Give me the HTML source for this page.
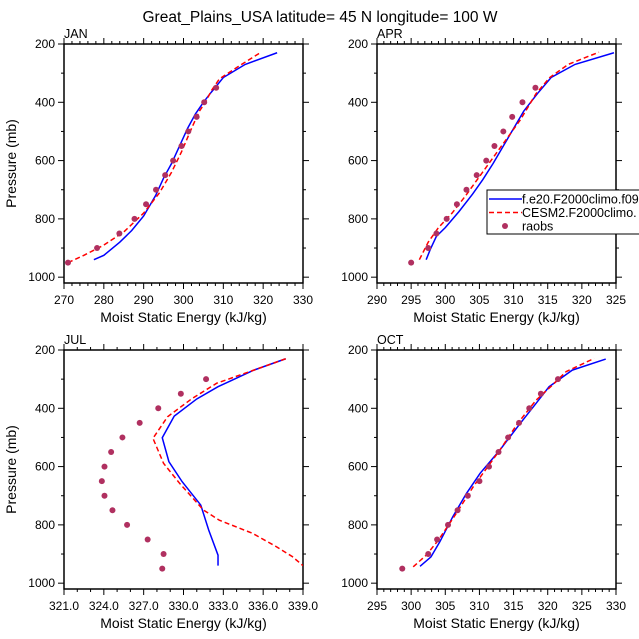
<!DOCTYPE html>
<html><head><meta charset="utf-8"><style>
html,body{margin:0;padding:0;background:#fff;overflow:hidden}
svg{display:block;font-family:"Liberation Sans",Arial,sans-serif}
</style></head><body>
<svg id="c" width="639" height="639" viewBox="0 0 639 639">
<text x="320" y="22" text-anchor="middle" font-size="15.5">Great_Plains_USA  latitude= 45 N longitude= 100 W</text>
</svg>
<script>
const NS='http://www.w3.org/2000/svg';
const svg=document.getElementById('c');
// JAN
const janObsX=[271,278.3,283.9,287.7,290.6,293.1,295.4,297.4,299.5,301.2,303.3,305.2,308.2];
const janObsP=[950,900,850,800,750,700,650,600,550,500,450,400,350];
const janBlueX=[277.5,280,284,287,290,293,295,297,299,301,303,305,307,310,315.5,323.5];
const janBlueP=[940,925,880,840,790,720,660,610,550,490,440,400,365,315,270,230];
const janRedX=[271,275,280,285,290,294,297,299.5,302,304,305.5,307,309,314,319.5];
const janRedP=[950,925,890,845,780,710,640,570,490,430,400,360,320,275,228];
// APR
const aprObsX=[295,297.5,298.7,300.2,301.7,303.1,304.6,306,307.2,308.5,309.8,311.3,313.2];
const aprObsP=[950,900,850,800,750,700,650,600,550,500,450,400,350];
const aprBlueX=[297.2,297.8,298.7,300,302,304,305.5,307,308.5,310,311.5,313.5,315.5,319,324.7];
const aprBlueP=[940,905,860,830,775,715,665,610,550,490,430,370,315,270,230];
const aprRedX=[296.2,297.5,299,301,303,305,307,309,311,313.3,315.3,318,322.5];
const aprRedP=[940,880,830,780,720,655,590,525,460,370,315,270,228];
// JUL
const julObsX=[331.7,329.8,328.1,326.7,325.4,324.55,324.05,323.85,324.05,324.65,325.75,327.3,328.5,328.4];
const julObsP=[300,350,400,450,500,550,600,650,700,750,800,850,900,950];
const julBlueX=[337.7,335.3,332.6,331.0,329.3,328.4,328.9,329.9,331.3,331.9,332.6,332.6];
const julBlueP=[230,269,326,368,427,501,583,652,732,818,904,940];
const julRedX=[337.7,335.3,332.5,330.6,328.8,327.7,328.5,329.7,331.5,332.7,335.2,337,338.2,339];
const julRedP=[230,269,314,368,429,503,589,657,749,784,829,875,909,940];
// OCT
const octObsX=[298.7,302.5,303.8,305.4,306.8,308.3,310,311.4,312.8,314.2,315.8,317.3,319,321.5];
const octObsP=[950,900,850,800,750,700,650,600,550,500,450,400,350,300];
const octBlueX=[301.3,302.9,304.2,306.1,308.1,310.1,313,315.8,318.3,320.2,323.6,328.5];
const octBlueP=[942,910,858,772,692,623,543,457,383,326,269,231];
const octRedX=[300.3,302.2,304,306.6,309.1,313,315.6,318.3,320.7,322.7,326.8];
const octRedP=[944,904,852,761,669,543,452,372,320,274,229];

const yTicks=[200,400,600,800,1000];
function el(t,a,p){const e=document.createElementNS(NS,t);for(const k in a)e.setAttribute(k,a[k]);(p||svg).appendChild(e);return e;}
function panel(name,L,T,xmin,xmax,xstep,xminor,dec,obsX,obsP,bX,bP,rX,rP){
  const R=L+239,B=T+239;
  const g=el('g',{});
  
  
  const sx=v=>L+(v-xmin)/(xmax-xmin)*(R-L);
  const sy=p=>T+(p-200)/820*(B-T);
  for(let v=xmin;v<=xmax+1e-9;v+=xminor){
    const maj=Math.abs(((v-xmin)/xstep)-Math.round((v-xmin)/xstep))<1e-6;
    const x=sx(v),len=maj?6:3;
    el('line',{x1:x,y1:B,x2:x,y2:B+len,stroke:'#000','stroke-width':1},g);
    el('line',{x1:x,y1:T,x2:x,y2:T-len,stroke:'#000','stroke-width':1},g);
    if(maj){const t=el('text',{x:x,y:B+21,'text-anchor':'middle','font-size':12},g);t.textContent=v.toFixed(dec);
      }
  }
  for(let p=200;p<=1000;p+=100){
    const maj=p%200===0,y=sy(p),len=maj?6:3;
    el('line',{x1:L,y1:y,x2:L-len,y2:y,stroke:'#000'},g);
    el('line',{x1:R,y1:y,x2:R+len,y2:y,stroke:'#000'},g);
  }
  yTicks.forEach(p=>{const t=el('text',{x:L-9,y:sy(p)+4,'text-anchor':'end','font-size':12},g);t.textContent=p;
    });
  const box=el('rect',{x:L,y:T,width:R-L,height:B-T,fill:'none',stroke:'#000','stroke-width':1.5},g);
  
  const tl=el('text',{x:L,y:T-6,'font-size':12.5},g);tl.textContent=name.toUpperCase();
  
  const xt=el('text',{x:(L+R)/2,y:B+39,'text-anchor':'middle','font-size':14},g);xt.textContent='Moist Static Energy (kJ/kg)';
  
  if(L<100){const yt=el('text',{x:0,y:0,'text-anchor':'middle','font-size':14,transform:`translate(16,${(T+B)/2}) rotate(-90)`},g);yt.textContent='Pressure (mb)';
    }
  const cp=el('clipPath',{id:'cp'+name},g);el('rect',{x:L,y:T,width:R-L,height:B-T},cp);
  const line=(X,P,col,dash,nm)=>{const pl=el('polyline',{points:X.map((x,i)=>sx(x)+','+sy(P[i])).join(' '),fill:'none',stroke:col,'stroke-width':1.5,'stroke-dasharray':dash,'clip-path':`url(#cp${name})`},g);
    };
  line(bX,bP,'#0000ff','none',name+'-f-e20-line');
  line(rX,rP,'#ff0000','5,3',name+'-cesm2-line');
  obsX.forEach((x,i)=>{const c=el('circle',{cx:sx(x),cy:sy(obsP[i]),r:3,fill:'#b03060'},g);
    });
}
panel('jan',64,44,270,330,10,2,0,janObsX,janObsP,janBlueX,janBlueP,janRedX,janRedP);
panel('apr',377,44,290,325,5,1,0,aprObsX,aprObsP,aprBlueX,aprBlueP,aprRedX,aprRedP);
panel('jul',64,350,321,339,3,1,1,julObsX,julObsP,julBlueX,julBlueP,julRedX,julRedP);
panel('oct',377,350,295,330,5,1,0,octObsX,octObsP,octBlueX,octBlueP,octRedX,octRedP);
const lg=el('g',{});


el('rect',{x:487,y:190,width:180,height:44,fill:'#fff',stroke:'#000','stroke-width':1},lg);
const items=[['f.e20.F2000climo.f09','#0000ff','none','line'],['CESM2.F2000climo.','#ff0000','5,3','line'],['raobs','#b03060','','dot']];
items.forEach((it,i)=>{const y=199+i*13.5;
  const e=el('g',{},lg);
  
  
  if(it[3]==='line')el('line',{x1:489,y1:y,x2:522,y2:y,stroke:it[1],'stroke-width':1.5,'stroke-dasharray':it[2]},e);
  else el('circle',{cx:505,cy:y,r:3,fill:it[1]},e);
  const t=el('text',{x:522,y:y+4.5,'font-size':12.5},e);t.textContent=it[0];});
</script>
</body></html>
